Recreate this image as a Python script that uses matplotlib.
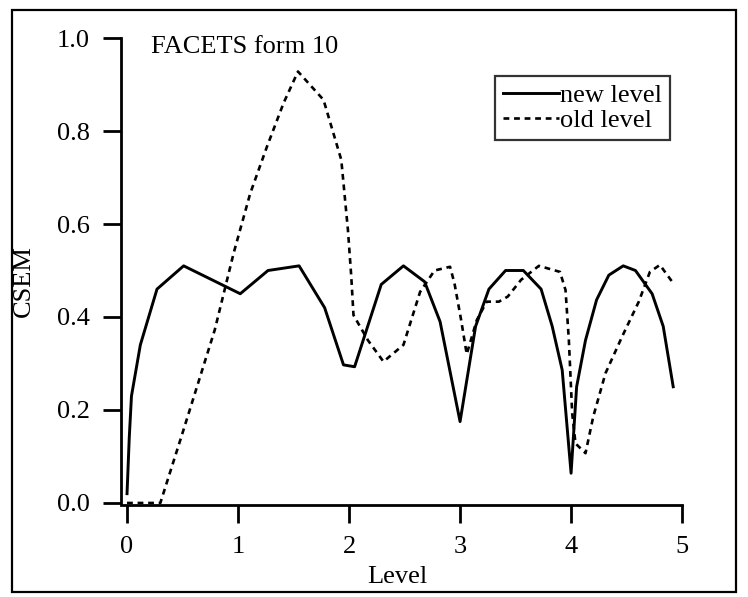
import matplotlib
matplotlib.use("Agg")
import matplotlib.pyplot as plt
from matplotlib.patches import Rectangle

# CSEM against level
new_x = [0.0, 0.02, 0.04, 0.12, 0.27, 0.51, 1.02, 1.27, 1.55, 1.78, 1.95, 2.05,
         2.29, 2.49, 2.68, 2.82, 3.0, 3.09, 3.14, 3.26, 3.41, 3.57, 3.73, 3.83,
         3.92, 4.0, 4.05, 4.13, 4.23, 4.34, 4.47, 4.58, 4.73, 4.83, 4.92]
new_y = [0.02, 0.14, 0.23, 0.34, 0.46, 0.51, 0.45, 0.50, 0.51, 0.42, 0.297, 0.293,
         0.47, 0.51, 0.476, 0.39, 0.175, 0.307, 0.38, 0.46, 0.50, 0.50, 0.46, 0.38,
         0.286, 0.064, 0.25, 0.35, 0.437, 0.49, 0.51, 0.50, 0.45, 0.38, 0.25]

old_x = [0.0, 0.30, 0.49, 0.79, 0.96, 1.11, 1.26, 1.41, 1.54, 1.77, 1.93, 1.99,
         2.02, 2.04, 2.17, 2.31, 2.49, 2.64, 2.77, 2.91, 2.95, 3.01, 3.06, 3.15,
         3.24, 3.35, 3.43, 3.55, 3.71, 3.90, 3.95, 3.98, 4.01, 4.04, 4.13, 4.20,
         4.31, 4.46, 4.61, 4.71, 4.80, 4.91]
old_y = [0.0, 0.0, 0.143, 0.372, 0.537, 0.666, 0.766, 0.86, 0.928, 0.867, 0.738, 0.587,
         0.487, 0.404, 0.35, 0.304, 0.34, 0.454, 0.50, 0.508, 0.472, 0.393, 0.32, 0.393,
         0.433, 0.433, 0.444, 0.48, 0.51, 0.497, 0.458, 0.35, 0.193, 0.128, 0.107, 0.186,
         0.279, 0.358, 0.433, 0.497, 0.512, 0.476]

xticks = [0, 1, 2, 3, 4, 5]
yticks = [0.0, 0.2, 0.4, 0.6, 0.8, 1.0]

plt.rcParams["font.family"] = ["Liberation Serif", "DejaVu Serif"]
plt.rcParams["font.size"] = 19

fig = plt.figure(figsize=(7.48, 5.97), dpi=100)
ax = fig.add_axes([0.1624, 0.1536, 0.7569, 0.7827])

ax.plot(new_x, new_y, color="black", lw=2.1, label="new level")
ax.plot(old_x, old_y, color="black", lw=1.9, dashes=(2.2, 1.8), label="old level")

ax.set_xlim(-0.05, 5.05)
ax.set_ylim(-0.005, 1.0)
ax.set_xticks(xticks)
ax.set_xticklabels([str(t) for t in xticks])
ax.set_yticks(yticks)
ax.set_yticklabels([f"{t:.1f}" for t in yticks])

for s in ["top", "right"]:
    ax.spines[s].set_visible(False)
ax.spines["left"].set_bounds(0, 1.0)
ax.spines["bottom"].set_bounds(-0.05, 5.0)
ax.spines["left"].set_linewidth(2)
ax.spines["bottom"].set_linewidth(2)
ax.tick_params(direction="out", length=13, width=2)
ax.tick_params(axis="y", pad=10)
ax.tick_params(axis="x", pad=9)

ax.text(0.22, 0.968, "FACETS form 10", va="baseline", ha="left")

leg = ax.legend(loc="upper right", bbox_to_anchor=(670 / 748, 1 - 76 / 597),
                bbox_transform=fig.transFigure, borderaxespad=0,
                fancybox=False, frameon=True, handlelength=2.1,
                handletextpad=0.05, labelspacing=0.05, borderpad=0.3)
leg.get_frame().set_edgecolor("black")
leg.get_frame().set_linewidth(1.6)

fig.text(397 / 748, 1 - 577 / 597, "Level", ha="center", va="center")
fig.text(24 / 748, 1 - 281 / 597, "CSEM", ha="center", va="center", rotation=90)

# outer border of the scanned figure
fig.patches.append(Rectangle((12 / 748, 1 - 592 / 597), 724 / 748, 582 / 597,
                             transform=fig.transFigure, fill=False,
                             edgecolor="black", lw=1.6))

fig.savefig("out.png", dpi=100)
